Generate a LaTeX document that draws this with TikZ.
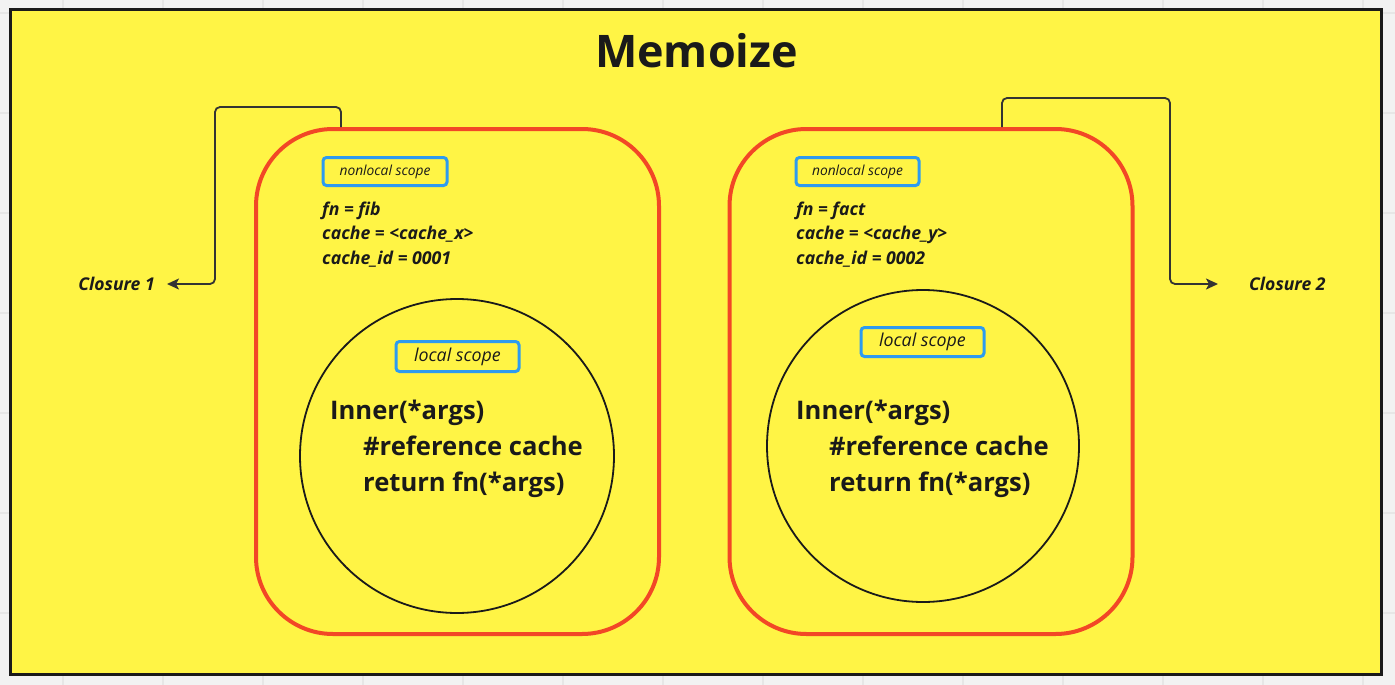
\documentclass[tikz,border=0pt]{standalone}
\usepackage{fontspec}
\setmainfont{Open Sans}
\usetikzlibrary{arrows.meta,calc}
\definecolor{bgc}{HTML}{F2F2F2}
\definecolor{gridc}{HTML}{E6E6E6}
\definecolor{myyellow}{HTML}{FFF445}
\definecolor{myred}{HTML}{F24726}
\definecolor{myblue}{HTML}{2D9BF0}
\definecolor{ink}{HTML}{1A1A1A}
\definecolor{conn}{HTML}{333333}
\tikzset{
  redbox/.style={draw=myred, line width=4pt, rounded corners=77pt, minimum width=403pt, minimum height=505pt, inner sep=0pt},
  scopebox/.style={draw=myblue, line width=3pt, rounded corners=3.5pt, inner sep=0pt, text=ink},
  nlfont/.style={font=\itshape\fontsize{13.8}{16}\selectfont},
  lsfont/.style={font=\itshape\fontsize{17.8}{20}\selectfont},
  varline/.style={anchor=base west, inner sep=0pt, text=ink, font=\bfseries\itshape\fontsize{17.7}{20}\selectfont},
  codeline/.style={anchor=base west, inner sep=0pt, text=ink, font=\bfseries\fontsize{25.6}{30}\selectfont},
  innercirc/.style={draw=ink, line width=1.8pt, circle, inner sep=0pt},
  closurelbl/.style={inner sep=0pt, inner xsep=12pt, text=ink, font=\bfseries\itshape\fontsize{17.6}{20}\selectfont},
  connector/.style={draw=conn, line width=1.8pt, rounded corners=5pt, -{Stealth[length=12pt,width=11pt,inset=3pt]}},
}
\begin{document}
\begin{tikzpicture}[x=1pt,y=-1pt]
\useasboundingbox (0,0) rectangle (1395,685);
\fill[bgc] (0,0) rectangle (1395,685);
\foreach \gx in {63,163,...,1363} \draw[gridc, line width=1.5pt] (\gx,0) -- (\gx,685);
\foreach \gy in {13,113,...,613} \draw[gridc, line width=1.5pt] (0,\gy) -- (1395,\gy);
\draw[fill=myyellow, draw=ink, line width=2.7pt] (10.5,9.5) rectangle (1381.3,674.7);

\node[anchor=base, inner sep=0pt, text=ink, font=\bfseries\fontsize{44.9}{50}\selectfont] (title) at (696.5,67) {Memoize};

% closure boxes
\node[redbox] (c1) at (457.5,381.5) {};
\node[redbox] (c2) at (931,381.5) {};

% circles
\node[innercirc, minimum size=314pt] (k1) at (457,456) {};
\node[innercirc, minimum size=312pt] (k2) at (923,446) {};

% scope labels
\node[scopebox, nlfont, minimum width=124pt, minimum height=28pt] (nl1) at (385,171.5) {nonlocal scope};
\node[scopebox, nlfont, minimum width=123pt, minimum height=28pt] (nl2) at (857.5,171.5) {nonlocal scope};
\node[scopebox, lsfont, minimum width=123pt, minimum height=30pt] (ls1) at (457.5,356.5) {local scope};
\node[scopebox, lsfont, minimum width=123pt, minimum height=29pt] (ls2) at (922.5,342) {local scope};

% nonlocal variables
\node[varline] (v1a) at (322,215) {fn = fib};
\node[varline] (v1b) at (322,239.5) {cache = <cache\_x>};
\node[varline] (v1c) at (322,264) {cache\_id = 0001};
\node[varline] (v2a) at (796,215) {fn = fact};
\node[varline] (v2b) at (796,239.5) {cache = <cache\_y>};
\node[varline] (v2c) at (796,264) {cache\_id = 0002};

% inner code
\node[codeline] (i1a) at (330,419) {Inner(*args)};
\node[codeline] (i1b) at (363,455) {\#reference cache};
\node[codeline] (i1c) at (363,491) {return fn(*args)};
\node[codeline] (i2a) at (796,419.5) {Inner(*args)};
\node[codeline] (i2b) at (829,455.5) {\#reference cache};
\node[codeline] (i2c) at (829,491) {return fn(*args)};

% closure labels
\node[closurelbl, anchor=east] (cl1) at (167,284) {Closure 1};
\node[closurelbl, anchor=west] (cl2) at (1237,284) {Closure 2};

% connectors
\draw[connector] ([xshift=-116.5pt]c1.north) |- (215,107) |- (cl1.east);
\draw[connector] ([xshift=71pt]c2.north) |- (1170,98) |- ([xshift=-19pt]cl2.west);
\end{tikzpicture}
\end{document}
